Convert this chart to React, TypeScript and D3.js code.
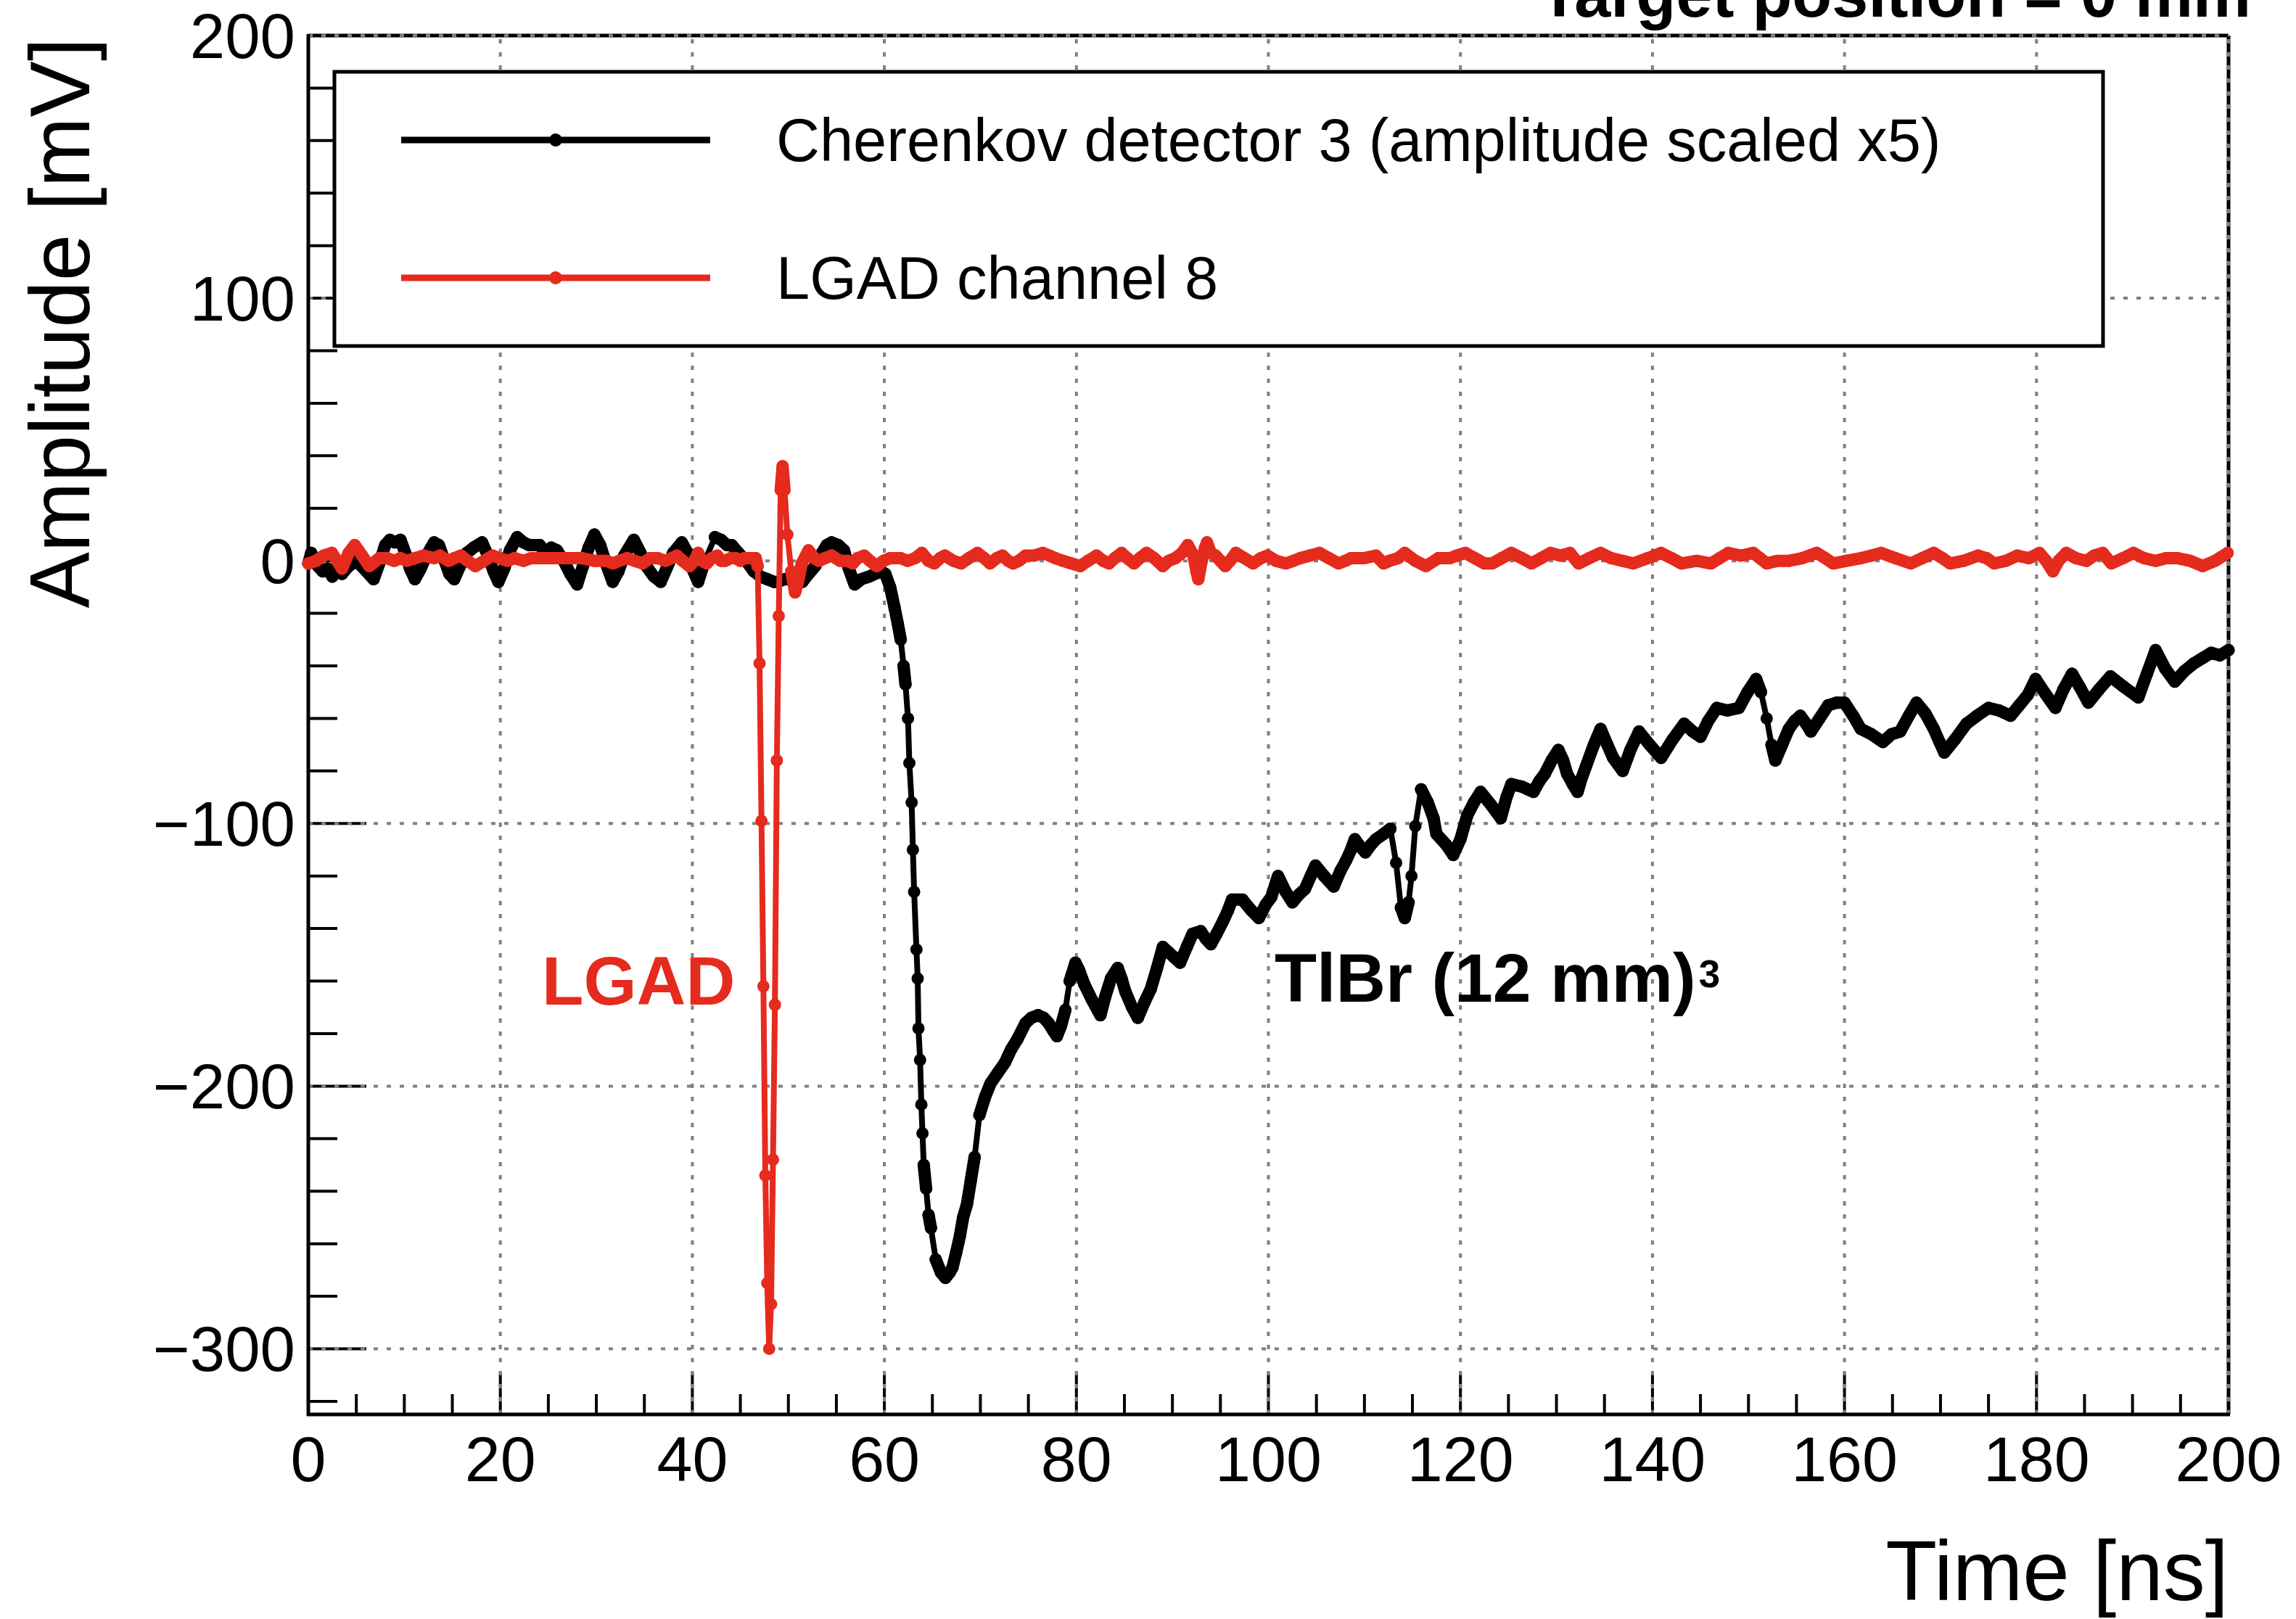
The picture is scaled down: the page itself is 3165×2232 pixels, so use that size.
import React from 'react';
import * as d3 from 'd3';

// canvas + frame (pixels of the reference)
const W = 3165;
const H = 2232;
const FRAME = { left: 425, right: 3072, top: 49, bottom: 1950 };
const FONT = '"Liberation Sans", Arial, Helvetica, sans-serif';
const RED = '#e52b1d';
const MARKER_R = 8.5;

// axes
const xDomain: [number, number] = [0, 200];
const yDomain: [number, number] = [-325, 200];
const xMajor = [0, 20, 40, 60, 80, 100, 120, 140, 160, 180, 200];
const yMajor = [-300, -200, -100, 0, 100, 200];
const yTickLabels = ['\u2212300', '\u2212200', '\u2212100', '0', '100', '200'];

// Cherenkov detector 3 (x5), [time ns, amplitude mV]
const cherenkovBaseline: [number, number][] = [
  [0, -1], [0.3, 3], [1.0, -2], [1.5, -4], [2.0, -3], [2.5, -6], [3.0, -3], [3.5, -5], [4.2, -2],
  [5.0, 0], [5.8, -3], [6.8, -7], [7.5, 0], [8.0, 6], [8.5, 8], [9.0, 7], [9.6, 8], [10.2, 2],
  [10.6, -3], [11.1, -7], [11.7, -3], [12.3, 2], [13.1, 7], [13.6, 6], [14.2, 0], [14.7, -5],
  [15.2, -7], [15.8, -2], [16.5, 3], [17.2, 5], [18.1, 7], [18.7, 2], [19.3, -4], [19.8, -8],
  [20.4, -3], [21.0, 4], [21.75, 9], [22.4, 7], [23.0, 6], [24.1, 6], [24.7, 3], [25.3, 5],
  [25.9, 4], [26.6, 0], [27.3, -5], [28.0, -9], [28.6, -2], [29.2, 5], [29.8, 10], [30.4, 6],
  [31.0, -1], [31.7, -8], [32.3, -4], [32.9, 2], [33.9, 8], [34.6, 3], [35.2, -2], [36.0, -6],
  [36.7, -8], [37.3, -3], [38.0, 3], [38.9, 7], [39.5, 3], [40.0, -3], [40.6, -8], [41.3, 0],
  [42.35, 9], [43.0, 8], [43.6, 6], [44.1, 6], [44.8, 3], [45.3, 1], [45.8, -1], [46.4, -4],
  [47.1, -6], [47.8, -7], [48.5, -8], [48.9, -8], [49.6, -7], [50.2, -7], [50.6, -6], [51.0, -8],
  [51.45, -8], [52.1, -5], [52.8, -2], [53.5, 3], [54.0, 6], [54.5, 7], [55.2, 6], [55.8, 4],
  [56.3, -3], [56.9, -9], [57.6, -7], [58.4, -6], [59.0, -5], [59.7, -4],
];
const cherenkovPulse: [number, number][] = [
  [60.1, -5], [60.6, -10], [61.07, -18], [61.4, -24], [61.7, -30], [62.0, -40], [62.2, -47],
  [62.46, -60], [62.6, -77], [62.84, -92], [62.97, -110], [63.1, -126], [63.34, -148],
  [63.47, -159], [63.55, -178], [63.72, -190], [63.85, -207], [63.97, -218], [64.1, -230],
  [64.35, -239], [64.6, -249], [64.85, -254], [65.35, -266], [65.9, -271], [66.36, -273],
  [66.8, -271], [67.1, -269], [67.5, -263], [67.87, -257], [68.2, -250], [68.6, -245],
  [69.0, -236], [69.4, -227], [69.9, -211], [70.5, -204], [71.05, -199], [71.8, -195],
  [72.56, -191], [73.2, -186], [73.87, -182], [74.7, -176], [75.3, -174], [76.0, -173],
  [76.6, -174], [77.1, -176], [77.6, -179], [77.97, -181], [78.4, -177], [78.85, -171],
  [79.3, -160], [79.9, -153], [80.3, -156], [80.8, -161], [81.6, -167], [82.5, -173],
  [83.0, -166], [83.6, -159], [84.3, -155], [84.7, -159], [85.1, -164], [85.8, -170],
  [86.4, -174], [87.1, -168], [87.75, -163], [88.4, -155], [89.0, -147], [89.6, -149],
  [90.2, -151], [90.8, -153], [91.5, -147], [92.1, -142], [92.95, -141], [93.5, -144],
  [94.0, -146], [94.6, -142], [95.3, -137], [95.8, -133], [96.2, -129], [97.3, -129],
  [98.2, -133], [99.0, -136], [99.7, -131],
];
const cherenkovTail: [number, number][] = [
  [100.3, -128], [101.0, -120], [101.8, -126], [102.5, -130], [103.2, -127], [103.8, -125],
  [104.4, -120], [104.9, -116], [105.8, -120], [106.8, -124], [107.5, -118], [108.1, -114],
  [108.6, -110], [109.0, -106], [109.6, -109], [110.1, -111], [110.7, -108], [111.2, -106],
  [112.0, -104], [112.7, -102], [113.3, -115], [113.8, -132], [114.2, -136], [114.6, -130],
  [114.9, -120], [115.3, -101], [115.9, -87], [116.6, -92], [117.2, -98], [117.5, -104],
  [118.5, -108], [119.25, -112], [120.0, -106], [120.7, -97], [121.4, -92], [122.1, -88],
  [123.2, -93], [124.2, -98], [124.8, -90], [125.3, -85], [126.4, -86], [127.6, -88],
  [128.2, -84], [128.8, -81], [129.5, -76], [130.2, -72], [130.7, -76], [131.1, -81],
  [131.7, -85], [132.2, -88], [132.6, -83], [133.1, -78], [133.9, -70], [134.6, -64],
  [135.3, -70], [135.9, -75], [136.9, -80], [137.7, -72], [138.6, -65], [139.7, -70],
  [140.9, -75], [142.1, -68], [143.3, -62], [144.2, -65], [145.0, -67], [145.8, -61],
  [146.7, -56], [147.8, -57], [149.0, -56], [149.9, -50], [150.8, -45], [151.3, -50],
  [151.9, -60], [152.4, -70], [152.8, -76], [153.5, -70], [154.2, -64], [154.8, -61],
  [155.4, -59], [156.0, -62], [156.5, -65], [157.4, -60], [158.3, -55], [159.2, -54],
  [160.0, -54], [160.9, -59], [161.7, -64], [162.8, -66], [164.0, -69], [164.9, -66],
  [165.8, -65], [166.7, -59], [167.5, -54], [168.4, -58], [169.3, -64], [169.9, -69],
  [170.4, -73], [171.5, -68], [172.7, -62], [173.8, -59], [175.0, -56], [176.1, -57],
  [177.3, -59], [178.2, -55], [179.1, -51], [179.9, -45], [181.0, -51], [181.97, -56],
  [182.8, -49], [183.7, -43], [184.5, -48], [185.4, -54], [186.5, -49], [187.7, -44],
  [189.1, -48], [190.6, -52], [191.5, -43], [192.4, -34], [193.4, -41], [194.4, -46],
  [195.4, -42], [196.4, -39], [197.3, -37], [198.2, -35], [199.1, -36], [200.0, -34],
];

// LGAD channel 8, [time ns, amplitude mV]
const lgadBefore: [number, number][] = [
  [0, -1], [0.8, 0], [1.6, 2], [2.45, 3], [3.0, 0], [3.5, -3], [4.2, 3], [4.83, 6], [5.6, 2],
  [6.35, -2], [7.4, 1], [8.2, 1], [8.95, 0], [9.6, 1], [10.25, 0], [11.1, 1], [12.0, 2],
  [13.1, 1], [13.7, 2], [14.6, 0], [15.2, 1], [15.9, 2], [16.6, 0], [17.4, -2], [18.3, 0],
  [19.2, 2], [20.0, 1], [20.7, 0], [21.5, 1], [22.4, 0], [23.2, 1], [24.1, 1], [25.0, 1],
  [25.9, 1], [26.8, 1], [27.6, 1], [28.5, 1], [29.8, 0], [31.1, 0], [31.7, -1], [32.4, 0],
  [33.2, 1], [34.0, 0], [34.8, -1], [35.6, 1], [36.4, 1], [37.2, 0], [38.4, 2], [39.0, 0],
  [39.7, -2], [40.2, 0], [40.6, 3], [41.0, 0], [41.5, -1], [42.0, 1], [42.6, 2], [43.0, 0],
  [43.4, 0], [44.0, 1], [44.5, 1], [45.0, 0], [45.4, 1], [45.8, 1], [46.2, 1], [46.6, 1],
];
const lgadPulse: [number, number][] = [
  [46.8, -2], [47.0, -39], [47.2, -99], [47.4, -162], [47.6, -234], [47.8, -275], [48.0, -300],
  [48.2, -283], [48.4, -228], [48.6, -169], [48.8, -76], [49.0, -21], [49.2, 27], [49.4, 36],
  [49.6, 27], [49.9, 10], [50.3, -4], [50.7, -12], [51.0, -8], [51.4, -1], [52.1, 4],
];
const lgadAfter: [number, number][] = [
  [52.7, 1], [53.2, 0], [53.8, 1], [54.5, 2], [55.4, 0], [56.2, 0], [56.7, -1], [57.2, 1],
  [57.9, 2], [58.5, 0], [59.2, -2], [59.9, 0], [60.6, 1], [61.2, 1], [61.7, 1], [62.4, 0],
  [63.2, 1], [63.9, 3], [64.6, 0], [65.2, -1], [65.8, 1], [66.3, 2], [67.2, 0], [68.0, -1],
  [68.8, 1], [69.7, 3], [70.4, 1], [71.0, -1], [71.7, 1], [72.3, 2], [72.9, 0], [73.4, -1],
  [74.0, 0], [74.7, 2], [75.6, 2], [76.5, 3], [77.2, 2], [77.8, 1], [78.6, 0], [79.5, -1],
  [80.4, -2], [81.2, 0], [82.1, 2], [82.8, 0], [83.4, -1], [84.0, 1], [84.7, 3], [85.3, 1],
  [86.0, -1], [86.6, 1], [87.3, 3], [88.1, 1], [89.0, -2], [89.6, 0], [90.3, 1], [91.0, 3],
  [91.6, 6], [92.2, 2], [92.5, -4], [92.7, -7], [93.0, -1], [93.4, 5], [93.6, 7], [94.0, 3],
  [94.5, 2], [95.0, 0], [95.5, -2], [96.0, 0], [96.6, 3], [97.5, 1], [98.4, -1], [99.2, 1],
  [99.9, 2], [100.8, 0], [101.8, -1], [102.6, 0], [103.3, 1], [104.3, 2], [105.3, 3],
  [106.3, 1], [107.3, -1], [108.0, 0], [108.6, 1], [109.9, 1], [111.2, 2], [112.0, -1],
  [112.6, 0], [113.5, 1], [114.2, 3], [115.3, 0], [116.4, -2], [117.7, 1], [118.9, 1],
  [119.6, 2], [120.5, 3], [121.5, 1], [122.5, -1], [123.3, -1], [124.3, 1], [125.3, 3],
  [126.4, 1], [127.4, -1], [128.4, 1], [129.4, 3], [130.4, 2], [131.4, 3], [132.3, -1],
  [133.4, 1], [134.6, 3], [135.7, 1], [136.9, 0], [138.0, -1], [139.5, 1], [140.9, 3],
  [142.0, 1], [143.0, -1], [144.6, 0], [146.1, -1], [147.0, 1], [147.9, 3], [149.2, 2],
  [150.5, 3], [151.2, 1], [151.9, -1], [153.0, 0], [154.2, 0], [155.6, 1], [157.1, 3],
  [158.0, 1], [158.8, -1], [160.2, 0], [161.7, 1], [162.8, 2], [163.8, 3], [165.3, 1],
  [166.9, -1], [168.1, 1], [169.3, 3], [170.2, 1], [171.0, -1], [172.4, 0], [173.9, 2],
  [174.8, 1], [175.6, -1], [176.8, 0], [178.0, 2], [179.2, 1], [180.3, 3], [181.0, 0],
  [181.7, -4], [182.3, 0], [183.1, 3], [184.1, 1], [185.2, 0], [186.0, 2], [186.9, 3],
  [187.8, -1], [189.0, 1], [190.1, 3], [191.2, 1], [192.4, 0], [193.5, 1], [194.7, 1],
  [196.0, 0], [197.3, -2], [198.6, 0], [199.9, 3],
];

const cherenkov = [...cherenkovBaseline, ...cherenkovPulse, ...cherenkovTail];
const lgad = [...lgadBefore, ...lgadPulse, ...lgadAfter];

const series = [
  { name: 'Cherenkov detector 3 (amplitude scaled x5)', color: '#000000', data: cherenkov },
  { name: 'LGAD channel 8', color: RED, data: lgad },
];

const GRID = { stroke: '#808080', strokeWidth: 4, strokeDasharray: '6 12' };

export default function App() {
  const x = d3.scaleLinear().domain(xDomain).range([FRAME.left, FRAME.right]);
  const y = d3.scaleLinear().domain(yDomain).range([FRAME.bottom, FRAME.top]);
  const line = d3.line<[number, number]>().x(d => x(d[0])).y(d => y(d[1]));

  const xMinor = d3.range(0, 201, 5).filter(v => v % 20 !== 0);
  const yMinor = d3.range(-320, 201, 20).filter(v => v % 100 !== 0);

  // the scope samples densely: where neighbouring points sit close on screen
  // their markers merge into a solid band of marker width
  const bandPath = (data: [number, number][]) => {
    const p = d3.path();
    for (let i = 1; i < data.length; i++) {
      const x0 = x(data[i - 1][0]), y0 = y(data[i - 1][1]);
      const x1 = x(data[i][0]), y1 = y(data[i][1]);
      if (Math.hypot(x1 - x0, y1 - y0) < 35) {
        p.moveTo(x0, y0);
        p.lineTo(x1, y1);
      }
    }
    return p.toString();
  };

  return (
    <svg width={W} height={H} style={{ position: 'absolute', left: 0, top: 0, display: 'block', background: '#fff' }}
      fontFamily={FONT}>
      {/* frame top/right */}
      <line x1={FRAME.left} x2={FRAME.right} y1={FRAME.top} y2={FRAME.top} stroke="#000" strokeWidth={5} />
      <line x1={FRAME.right} x2={FRAME.right} y1={FRAME.top} y2={FRAME.bottom} stroke="#000" strokeWidth={5} />

      {/* ticks */}
      {xMajor.map(v => (
        <line key={'xM' + v} x1={x(v)} x2={x(v)} y1={FRAME.bottom} y2={FRAME.bottom - 58} stroke="#000" strokeWidth={4} />
      ))}
      {xMinor.map(v => (
        <line key={'xm' + v} x1={x(v)} x2={x(v)} y1={FRAME.bottom} y2={FRAME.bottom - 28} stroke="#000" strokeWidth={4} />
      ))}
      {yMajor.map(v => (
        <line key={'yM' + v} x1={FRAME.left} x2={FRAME.left + 80} y1={y(v)} y2={y(v)} stroke="#000" strokeWidth={4} />
      ))}
      {yMinor.map(v => (
        <line key={'ym' + v} x1={FRAME.left} x2={FRAME.left + 40} y1={y(v)} y2={y(v)} stroke="#000" strokeWidth={4} />
      ))}

      {/* grid */}
      {xMajor.map(v => (
        <line key={'gx' + v} x1={x(v)} x2={x(v)} y1={FRAME.bottom} y2={FRAME.top} {...GRID} />
      ))}
      {yMajor.map(v => (
        <line key={'gy' + v} x1={FRAME.left} x2={FRAME.right} y1={y(v)} y2={y(v)} {...GRID} />
      ))}

      {/* axis lines */}
      <line x1={FRAME.left} x2={FRAME.left} y1={FRAME.top - 2} y2={FRAME.bottom + 2} stroke="#000" strokeWidth={5} />
      <line x1={FRAME.left - 2} x2={FRAME.right + 2} y1={FRAME.bottom} y2={FRAME.bottom} stroke="#000" strokeWidth={5} />

      {/* tick labels */}
      {xMajor.map(v => (
        <text key={'xl' + v} x={x(v)} y={2042} textAnchor="middle" fontSize={88}>{v}</text>
      ))}
      {yMajor.map((v, i) => (
        <text key={'yl' + v} x={407} y={y(v) + 31} textAnchor="end" fontSize={87}>{yTickLabels[i]}</text>
      ))}

      {/* axis titles */}
      <text x={FRAME.right} y={2206} textAnchor="end" fontSize={116}>Time [ns]</text>
      <text transform="translate(123,52) rotate(-90)" textAnchor="end" fontSize={116}>Amplitude [mV]</text>
      <text x={3103} y={23} textAnchor="end" fontSize={90} fontWeight="bold">Target position = 0 mm</text>

      {/* data */}
      {series.map(s => (
        <g key={s.name}>
          <path d={bandPath(s.data)} fill="none" stroke={s.color} strokeWidth={MARKER_R * 2} strokeLinecap="round" />
          <path d={line(s.data) ?? ''} fill="none" stroke={s.color} strokeWidth={8} strokeLinejoin="round" />
          {s.data.map((d, i) => (
            <circle key={i} cx={x(d[0])} cy={y(d[1])} r={MARKER_R} fill={s.color} />
          ))}
        </g>
      ))}

      {/* annotations */}
      <text x={747} y={1385} fontSize={94} fontWeight="bold" fill={RED}>LGAD</text>
      <text x={1757} y={1381} fontSize={95} fontWeight="bold" fill="#000">
        TlBr (12 mm)<tspan fontSize={53} dx={4} dy={-20}>3</tspan>
      </text>

      {/* legend */}
      <rect x={461} y={99} width={2899 - 461} height={477 - 99} fill="#fff" stroke="#000" strokeWidth={5} />
      {series.map((s, i) => {
        const ly = i === 0 ? 193 : 383;
        return (
          <g key={'lg' + i}>
            <line x1={553} x2={979} y1={ly} y2={ly} stroke={s.color} strokeWidth={9} />
            <circle cx={766} cy={ly} r={9} fill={s.color} />
            <text x={1070} y={ly + 29} fontSize={83} fill="#000">{s.name}</text>
          </g>
        );
      })}
    </svg>
  );
}
